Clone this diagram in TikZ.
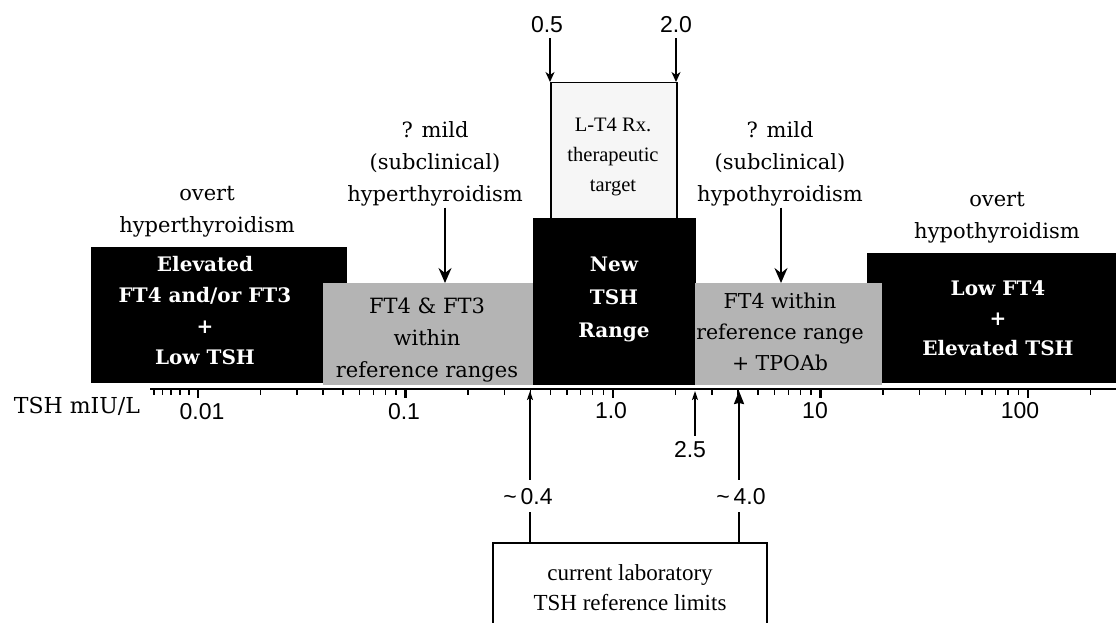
\documentclass[tikz,border=0pt]{standalone}
\usepackage{fontspec}
\setmainfont{DejaVu Serif}
\newfontfamily\numfont{Liberation Sans}
\newfontfamily\timesfont{Liberation Serif}
\usetikzlibrary{arrows.meta}
\definecolor{boxgray}{RGB}{180,180,180}
\definecolor{palegray}{RGB}{246,246,246}
\begin{document}
\begin{tikzpicture}[x=1pt,y=-1pt,
  blk/.style={fill=black, draw=none, inner sep=0pt, anchor=north west},
  gry/.style={fill=boxgray, draw=none, inner sep=0pt, anchor=north west},
  lbl/.style={align=center, inner sep=1pt, font=\fontsize{21}{32}\selectfont},
  wlbl/.style={align=center, inner sep=1pt, text=white, font=\fontsize{20}{31}\selectfont\bfseries},
  num/.style={inner sep=1pt, font=\numfont\fontsize{23}{26}\selectfont},
  tnr/.style={align=center, inner sep=1pt, font=\timesfont\fontsize{21}{30}\selectfont},
  bigarrow/.style={line width=2pt, -{Stealth[length=15pt,width=13pt,inset=5pt]}},
  toparrow/.style={line width=1.5pt, -{Stealth[length=10pt,width=9pt,inset=3pt]}},
  uparrow/.style={line width=1.5pt, -{Stealth[length=9pt,width=6pt,inset=2pt]}},
  fatarrow/.style={line width=2pt, -{Stealth[length=13pt,width=10pt,inset=1pt]}},
  plainline/.style={line width=1.5pt},
  tick/.style={line width=1.2pt},
  majortick/.style={line width=2.6pt},
]
\useasboundingbox (0,0) rectangle (1116,623);
\clip (0,0) rectangle (1116,623);

% boxes
\node[blk, minimum width=256pt, minimum height=136pt] (b1) at (91,247) {};
\node[gry, minimum width=210pt, minimum height=102pt] (g1) at (323,283) {};
\node[draw, fill=palegray, line width=1.5pt, inner sep=0pt, anchor=north west,
      minimum width=126pt, minimum height=137pt] (lt4) at (550,82) {};
\node[blk, minimum width=163pt, minimum height=167pt] (b2) at (533,218) {};
\node[blk, minimum width=249pt, minimum height=130pt] (b3) at (867,253) {};
\node[gry, minimum width=187pt, minimum height=102pt] (g2) at (695,283) {};

% texts
\node[lbl] (ohyper) at (207,212) {overt\\hyperthyroidism};
\node[wlbl] (t1) at (205,311) {Elevated\\FT4 and/or FT3\\+\\Low TSH};
\node[lbl] (mh) at (435,164) {? mild\\(subclinical)\\hyperthyroidism};
\node[lbl] (tg1) at (427,340) {FT4 \& FT3\\within\\reference ranges};
\node[wlbl, font=\fontsize{20}{33}\selectfont\bfseries] (t2) at (614,299) {New\\TSH\\Range};
\node[tnr, font=\timesfont\fontsize{20.5}{30}\selectfont] (tlt4) at (613,157) {L-T4 Rx.\\therapeutic\\target};
\node[lbl] (mo) at (780,164) {? mild\\(subclinical)\\hypothyroidism};
\node[lbl, font=\fontsize{20.5}{31}\selectfont] (tg2) at (780,332) {FT4 within\\reference range\\+ TPOAb};
\node[lbl] (ohypo) at (997,218) {overt\\hypothyroidism};
\node[wlbl, font=\fontsize{20}{30}\selectfont\bfseries] (t3) at (998,318) {Low FT4\\+\\Elevated TSH};

% arrows to grey boxes
\coordinate (a1) at (445,283);
\coordinate (a2) at (781,283);
\draw[bigarrow] (mh.south -| a1) -- (a1);
\draw[bigarrow] (mo.south -| a2) -- (a2);

% top limits
\node[num] (n05) at (547,25) {0.5};
\node[num] (n20) at (676,25) {2.0};
\coordinate (p05) at (550,82);
\coordinate (p20) at (676,82);
\draw[toparrow] ([yshift=-4pt]p05 |- n05.south) -- (p05);
\draw[toparrow] ([yshift=-4pt]p20 |- n20.south) -- (p20);

% axis
\coordinate (axL) at (150,389);
\coordinate (axR) at (1116,389);
\draw[line width=2pt] (axL) -- (axR);
\foreach \x in {154,162.5,171,180,189} \draw[tick] (\x,389) -- ++(0,6);
\foreach \d in {-2,-1,0,1}{
  \foreach \m in {2,...,9}{
    \pgfmathsetmacro\xx{613+207.5*(\d+log10(\m))}
    \draw[tick] (\xx,389) -- ++(0,6);
  }
}
\pgfmathsetmacro\xlast{613+207.5*(2+log10(2))}
\draw[tick] (\xlast,389) -- ++(0,6);
\foreach \d in {-2,...,2} \draw[majortick] ({613+207.5*\d},389) -- ++(0,9);

\node[font=\fontsize{22}{24}\selectfont, inner sep=1pt] (axlab) at (77,406) {TSH mIU/L};
\node[num] (n001) at (202,412) {0.01};
\node[num] (n01) at (404,412) {0.1};
\node[num] (n1) at (611,411) {1.0};
\node[num] (n10) at (815,411) {10};
\node[num] (n100) at (1020,411) {100};

% bottom limits
\node[num] (l04) at (528,497) {\textasciitilde\,0.4};
\node[num] (l40) at (741,497) {\textasciitilde\,4.0};
\node[num] (l25) at (690,450) {2.5};
\coordinate (p04) at (530,391);
\coordinate (p40) at (739,391);
\coordinate (p25) at (695,391);

\node[draw, line width=1.5pt, inner sep=0pt, anchor=north west,
      minimum width=274pt, minimum height=120pt] (ref) at (492,542) {};
\node[tnr, font=\timesfont\fontsize{23}{30}\selectfont] (reftxt) at (630,588) {current laboratory\\TSH reference limits};

\draw[uparrow] ([yshift=8pt]p04 |- l04.north) -- (p04);
\draw[plainline] ([yshift=-6pt]p04 |- l04.south) -- (p04 |- ref.north);
\draw[fatarrow] ([yshift=8pt]p40 |- l40.north) -- (p40);
\draw[plainline] ([yshift=-6pt]p40 |- l40.south) -- (p40 |- ref.north);
\draw[uparrow] ([yshift=5pt]p25 |- l25.north) -- (p25);
\end{tikzpicture}
\end{document}
